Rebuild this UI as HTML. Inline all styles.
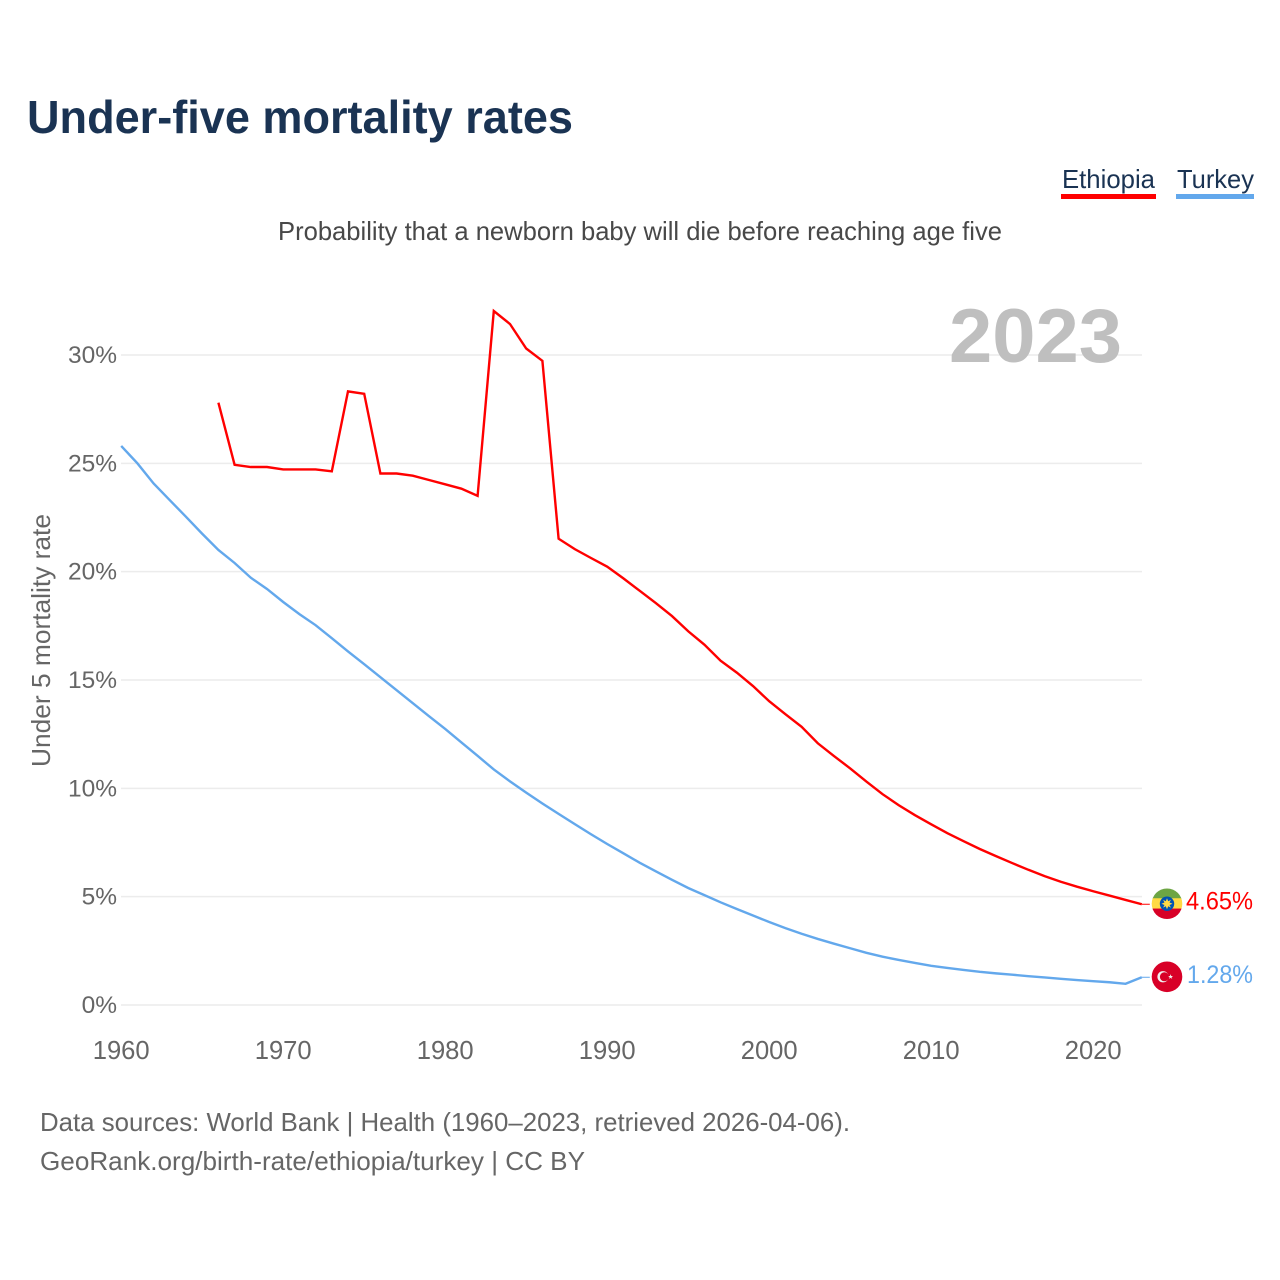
<!DOCTYPE html>
<html lang="en">
<head>
<meta charset="utf-8">
<title>Under-five mortality rates</title>
<style>
html,body{margin:0;padding:0;background:#fff;}
svg{display:block;font-family:"Liberation Sans",Arial,sans-serif;}
</style>
</head>
<body>
<svg id="chart" xmlns="http://www.w3.org/2000/svg" width="1280" height="1280" viewBox="0 0 1280 1280">
  <rect x="0" y="0" width="1280" height="1280" fill="#fff"/>
  <text x="27" y="133" font-size="46" font-weight="700" fill="#1a3353" textLength="546" lengthAdjust="spacingAndGlyphs">Under-five mortality rates</text>
  <g>
    <g>
      <text x="1062" y="188" font-size="26" fill="#1a3353" textLength="93" lengthAdjust="spacingAndGlyphs">Ethiopia</text>
      <rect x="1061" y="194" width="95" height="5" fill="#ff0000"/>
    </g>
    <g>
      <text x="1177" y="188" font-size="26" fill="#1a3353" textLength="77" lengthAdjust="spacingAndGlyphs">Turkey</text>
      <rect x="1176" y="194" width="78" height="5" fill="#63a8ec"/>
    </g>
  </g>
  <text x="278" y="240" font-size="26" fill="#484848" textLength="724" lengthAdjust="spacingAndGlyphs">Probability that a newborn baby will die before reaching age five</text>
  <g id="grid"></g>
  <g id="yticks"></g>
  <g id="xticks"></g>
  <text transform="translate(50,767) rotate(-90)" font-size="26" fill="#666" textLength="253" lengthAdjust="spacingAndGlyphs">Under 5 mortality rate</text>
  <text x="949" y="362" font-size="76" font-weight="700" fill="#bfbfbf" textLength="173" lengthAdjust="spacingAndGlyphs">2023</text>
  <g id="series"></g>
  <g id="flag-ethiopia">
    <clipPath id="clip-et"><circle cx="0" cy="0" r="15.3"/></clipPath>
    <g clip-path="url(#clip-et)">
      <rect x="-16" y="-16" width="32" height="11" fill="#6da544"/>
      <rect x="-16" y="-5.5" width="32" height="11" fill="#ffda44"/>
      <rect x="-16" y="4.8" width="32" height="12" fill="#d80027"/>
    </g>
    <circle cx="0" cy="0" r="7.2" fill="#0052b4"/>
    <polygon fill="#ffda44" points="0,-5.5 1.2,-2.5 3.9,-3.9 2.5,-1.2 5.5,0 2.5,1.2 3.9,3.9 1.2,2.5 0,5.5 -1.2,2.5 -3.9,3.9 -2.5,1.2 -5.5,0 -2.5,-1.2 -3.9,-3.9 -1.2,-2.5"/>
  </g>
  <g id="flag-turkey">
    <circle cx="0" cy="0" r="15.3" fill="#d80027"/>
    <circle cx="-4" cy="0" r="5.6" fill="#f0f0f0"/>
    <circle cx="-2.6" cy="0" r="4.5" fill="#d80027"/>
    <polygon fill="#f0f0f0" points="3.6,-2.6 4.2,-0.8 6.1,-0.8 4.6,0.3 5.2,2.1 3.6,1 2.1,2.1 2.6,0.3 1.1,-0.8 3,-0.8"/>
  </g>
  <g id="end-labels"></g>
  <text x="40" y="1131" font-size="26" fill="#666" textLength="810" lengthAdjust="spacingAndGlyphs">Data sources: World Bank | Health (1960–2023, retrieved 2026-04-06).</text>
  <text x="40" y="1170" font-size="26" fill="#666" textLength="545" lengthAdjust="spacingAndGlyphs">GeoRank.org/birth-rate/ethiopia/turkey | CC BY</text>
</svg>
<script>
var yTickValues = [0, 5, 10, 15, 20, 25, 30];
var yTickLabels = ['0%', '5%', '10%', '15%', '20%', '25%', '30%'];
var xTickYears = [1960, 1970, 1980, 1990, 2000, 2010, 2020];
var xTickLabels = ['1960', '1970', '1980', '1990', '2000', '2010', '2020'];
var ethiopiaStartYear = 1966;
var ethiopiaValues = [27.8, 24.93, 24.83, 24.83, 24.72, 24.72, 24.72, 24.63, 28.32, 28.21, 24.53, 24.53, 24.43, 24.23, 24.03, 23.83, 23.5, 32.03, 31.43, 30.3, 29.73, 21.52, 21.04, 20.63, 20.23, 19.69, 19.12, 18.55, 17.95, 17.25, 16.63, 15.89, 15.34, 14.72, 14.02, 13.42, 12.84, 12.08, 11.49, 10.92, 10.31, 9.73, 9.22, 8.76, 8.34, 7.93, 7.56, 7.2, 6.87, 6.55, 6.24, 5.95, 5.69, 5.46, 5.25, 5.05, 4.85, 4.65];
var turkeyStartYear = 1960;
var turkeyValues = [25.8, 25.0, 24.07, 23.3, 22.53, 21.75, 21.0, 20.4, 19.72, 19.2, 18.6, 18.04, 17.53, 16.93, 16.32, 15.73, 15.13, 14.53, 13.93, 13.33, 12.74, 12.12, 11.5, 10.87, 10.32, 9.8, 9.3, 8.82, 8.35, 7.88, 7.43, 7.0, 6.57, 6.17, 5.78, 5.4, 5.07, 4.74, 4.43, 4.13, 3.83, 3.55, 3.29, 3.05, 2.83, 2.62, 2.41, 2.23, 2.08, 1.94, 1.81, 1.71, 1.62, 1.53, 1.46, 1.4, 1.33, 1.27, 1.21, 1.15, 1.1, 1.05, 0.98, 1.28];
var ethiopiaEndLabel = '4.65%';
var turkeyEndLabel = '1.28%';

var SVGNS = 'http://www.w3.org/2000/svg';
var RED = '#ff0000';
var BLUE = '#63a8ec';

function xScale(year) { return 121.2 + (year - 1960) * 16.2; }
function yScale(v) { return 1005 - v * 21.667; }

function make(tag, parent) {
  var el = document.createElementNS(SVGNS, tag);
  parent.appendChild(el);
  return el;
}

var grid = document.getElementById('grid');
var yticks = document.getElementById('yticks');
yTickValues.forEach(function (v, i) {
  var line = make('line', grid);
  
  
  line.setAttribute('x1', 121);
  line.setAttribute('x2', 1142);
  line.setAttribute('y1', yScale(v));
  line.setAttribute('y2', yScale(v));
  line.setAttribute('stroke', '#ececec');
  line.setAttribute('stroke-width', 1.5);
  var t = make('text', yticks);
  
  
  t.setAttribute('x', 117);
  t.setAttribute('y', yScale(v) + 8);
  t.setAttribute('text-anchor', 'end');
  t.setAttribute('font-size', 24.5);
  t.setAttribute('fill', '#666');
  t.textContent = yTickLabels[i];
});

var xticks = document.getElementById('xticks');
xTickYears.forEach(function (yr, i) {
  var t = make('text', xticks);
  
  
  t.setAttribute('x', xScale(yr));
  t.setAttribute('y', 1059);
  t.setAttribute('text-anchor', 'middle');
  t.setAttribute('font-size', 25.6);
  t.setAttribute('fill', '#666');
  t.textContent = xTickLabels[i];
});

function pointsFor(startYear, values) {
  return values.map(function (v, i) {
    return xScale(startYear + i).toFixed(2) + ',' + yScale(v).toFixed(2);
  }).join(' ');
}

var series = document.getElementById('series');

var ethLine = make('polyline', series);


ethLine.setAttribute('points', pointsFor(ethiopiaStartYear, ethiopiaValues));
ethLine.setAttribute('fill', 'none');
ethLine.setAttribute('stroke', RED);
ethLine.setAttribute('stroke-width', 2.4);
ethLine.setAttribute('stroke-linejoin', 'miter');

var turLine = make('polyline', series);


turLine.setAttribute('points', pointsFor(turkeyStartYear, turkeyValues));
turLine.setAttribute('fill', 'none');
turLine.setAttribute('stroke', BLUE);
turLine.setAttribute('stroke-width', 2.4);
turLine.setAttribute('stroke-linejoin', 'miter');

var ethEndY = yScale(ethiopiaValues[ethiopiaValues.length - 1]);
var turEndY = yScale(turkeyValues[turkeyValues.length - 1]);
var endX = xScale(2023);

var ethTail = make('line', series);


ethTail.setAttribute('x1', endX);
ethTail.setAttribute('x2', endX + 8);
ethTail.setAttribute('y1', ethEndY);
ethTail.setAttribute('y2', ethEndY);
ethTail.setAttribute('stroke', RED);
ethTail.setAttribute('stroke-width', 1);

var turTail = make('line', series);


turTail.setAttribute('x1', endX);
turTail.setAttribute('x2', endX + 8);
turTail.setAttribute('y1', turEndY);
turTail.setAttribute('y2', turEndY);
turTail.setAttribute('stroke', BLUE);
turTail.setAttribute('stroke-width', 1);

document.getElementById('flag-ethiopia').setAttribute('transform', 'translate(1167,' + (ethEndY - 0.5) + ')');
document.getElementById('flag-turkey').setAttribute('transform', 'translate(1167,' + (turEndY - 0.5) + ')');

var endLabels = document.getElementById('end-labels');

var ethLabel = make('text', endLabels);


ethLabel.setAttribute('x', 1186);
ethLabel.setAttribute('y', ethEndY + 5.5);
ethLabel.setAttribute('font-size', 25);
ethLabel.setAttribute('fill', RED);
ethLabel.setAttribute('textLength', 67);
ethLabel.setAttribute('lengthAdjust', 'spacingAndGlyphs');
ethLabel.textContent = ethiopiaEndLabel;

var turLabel = make('text', endLabels);


turLabel.setAttribute('x', 1187);
turLabel.setAttribute('y', turEndY + 5.5);
turLabel.setAttribute('font-size', 25);
turLabel.setAttribute('fill', BLUE);
turLabel.setAttribute('textLength', 66);
turLabel.setAttribute('lengthAdjust', 'spacingAndGlyphs');
turLabel.textContent = turkeyEndLabel;
</script>
</body>
</html>
